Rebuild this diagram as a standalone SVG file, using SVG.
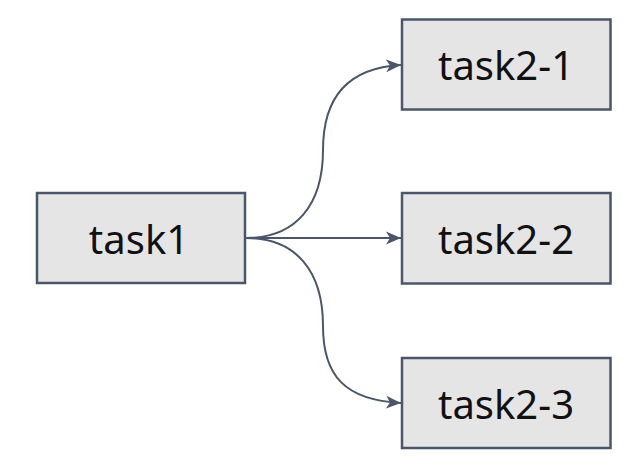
<svg xmlns="http://www.w3.org/2000/svg" width="628" height="466" viewBox="0 0 628 466">
<defs>
<style>
.box{fill:#e5e5e5;stroke:#4b5669;stroke-width:2.5}
.lbl{font-family:"Noto Sans","DejaVu Sans",sans-serif;font-size:40px;fill:#111;text-anchor:middle}
.edge{fill:none;stroke:#4b5669;stroke-width:2}
</style>
<marker id="arr" markerUnits="userSpaceOnUse" markerWidth="16" markerHeight="16" viewBox="0 0 16 16" refX="15" refY="8" orient="auto">
<path d="M0,1.5 L15,8 L0,14.5 L4,8 z" fill="#4b5669"/>
</marker>
</defs>
<rect width="628" height="466" fill="#fff"/>
<g id="connectors">
<path class="edge" d="M246,238 C296,238 323,205 323,150 C323,100 345,68 401,65" marker-end="url(#arr)"/>
<path class="edge" d="M246,238 L401,238" marker-end="url(#arr)"/>
<path class="edge" d="M246,238 C296,238 323,271 323,326 C323,376 345,400 401,403" marker-end="url(#arr)"/>
</g>
<g id="task1">
<rect class="box" x="37" y="193" width="208" height="90"/>
<text class="lbl" x="139" y="253.5">task1</text>
</g>
<g id="task2-1">
<rect class="box" x="402" y="19.5" width="208.5" height="90"/>
<text class="lbl" x="506" y="79.5">task2-1</text>
</g>
<g id="task2-2">
<rect class="box" x="402" y="193" width="208.5" height="90.5"/>
<text class="lbl" x="506" y="253.5">task2-2</text>
</g>
<g id="task2-3">
<rect class="box" x="402" y="358" width="208.5" height="90"/>
<text class="lbl" x="506" y="418.5">task2-3</text>
</g>
</svg>
